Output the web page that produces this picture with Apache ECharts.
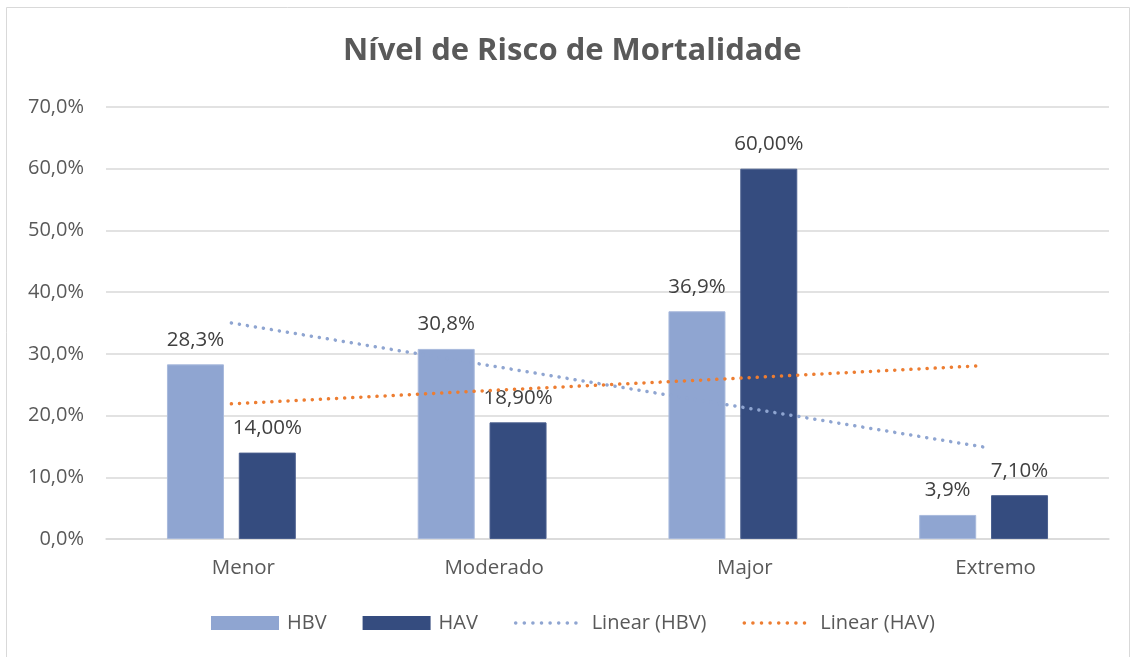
<!DOCTYPE html>
<html><head><meta charset="utf-8">
<script src="https://cdn.jsdelivr.net/npm/echarts@6/dist/echarts.min.js"></script>
<style>html,body{margin:0;padding:0;background:#fff}#c{width:1132px;height:657px}</style>
</head><body><div id="c"></div>
<script>
const categories = ['Menor', 'Moderado', 'Major', 'Extremo'];
const hbv = [28.3, 30.8, 36.9, 3.9];
const hav = [14.0, 18.9, 60.0, 7.1];
const trendHBV = [35.0, 28.3, 21.6, 14.9];
const trendHAV = [21.9, 24.0, 26.0, 28.1];
const yTicks = [0, 10, 20, 30, 40, 50, 60, 70];

const FONT = '"Open Sans", "Noto Sans", sans-serif';
const chart = echarts.init(document.getElementById('c'));
const fmt = (v, d) => v.toFixed(d).replace('.', ',') + '%';
const dotted = { type: [0.1, 8], cap: 'round', width: 3.5 };
const legDot = { type: [0.1, 8.5], cap: 'round', width: 3.5 };
chart.setOption({
  animation: false,
  backgroundColor: '#fff',
  textStyle: { fontFamily: FONT },
  title: {
    text: 'Nível de Risco de Mortalidade', left: 338, top: 31,
    textStyle: { fontFamily: FONT, fontSize: 31, fontWeight: 'bold', color: '#595959' }
  },
  graphic: [{ type: 'rect', shape: { x: 6.5, y: 7.5, width: 1123, height: 660 }, style: { fill: 'none', stroke: '#D9D9D9', lineWidth: 1 } }],
  grid: { left: 106, right: 23, top: 107, bottom: 118 },
  legend: {
    bottom: 19, left: 206, itemWidth: 68, itemHeight: 14, itemGap: 36,
    textStyle: { fontFamily: FONT, fontSize: 20, color: '#595959', padding: [0, 0, 0, 3] },
    data: [
      { name: 'HBV', icon: 'rect', itemStyle: { borderWidth: 0 } },
      { name: 'HAV', icon: 'rect', itemStyle: { borderWidth: 0 } },
      { name: 'Linear (HBV)', itemStyle: { opacity: 0 }, lineStyle: Object.assign({ color: '#8FA5D1' }, legDot) },
      { name: 'Linear (HAV)', itemStyle: { opacity: 0 }, lineStyle: Object.assign({ color: '#ED7D31' }, legDot) }
    ]
  },
  xAxis: {
    type: 'category', data: categories,
    axisLine: { lineStyle: { color: '#D9D9D9', width: 1.5 } },
    axisTick: { show: false },
    axisLabel: { fontFamily: FONT, fontSize: 20.5, color: '#595959', margin: 19, padding: [0, 0, 0, 24] }
  },
  yAxis: {
    type: 'value', min: 0, max: 70, interval: 10,
    axisLine: { show: false }, axisTick: { show: false },
    splitLine: { lineStyle: { color: '#D9D9D9', width: 1.5 } },
    axisLabel: { fontFamily: FONT, fontSize: 20, color: '#595959', margin: 22,
      formatter: v => yTicks.includes(v) ? fmt(v, 1) : '' }
  },
  series: [
    { name: 'HBV', type: 'bar', data: hbv, barWidth: 57, barGap: '26%',
      itemStyle: { color: '#8FA5D1', borderColor: '#A8B9DC', borderWidth: 1 },
      label: { show: true, position: 'top', distance: 14, fontFamily: FONT, fontSize: 20.5, color: '#404040', formatter: p => fmt(p.value, 1) } },
    { name: 'HAV', type: 'bar', data: hav, barWidth: 57,
      itemStyle: { color: '#354C7F', borderColor: '#4A5F8E', borderWidth: 1 },
      label: { show: true, position: 'top', distance: 14, fontFamily: FONT, fontSize: 20.5, color: '#404040', formatter: p => fmt(p.value, 2) } },
    { name: 'Linear (HBV)', type: 'line', data: trendHBV, symbol: 'none', z: 5,
      itemStyle: { color: '#8FA5D1' }, lineStyle: Object.assign({ color: '#8FA5D1' }, dotted) },
    { name: 'Linear (HAV)', type: 'line', data: trendHAV, symbol: 'none', z: 5,
      itemStyle: { color: '#ED7D31' }, lineStyle: Object.assign({ color: '#ED7D31' }, dotted) }
  ]
});
</script></body></html>
